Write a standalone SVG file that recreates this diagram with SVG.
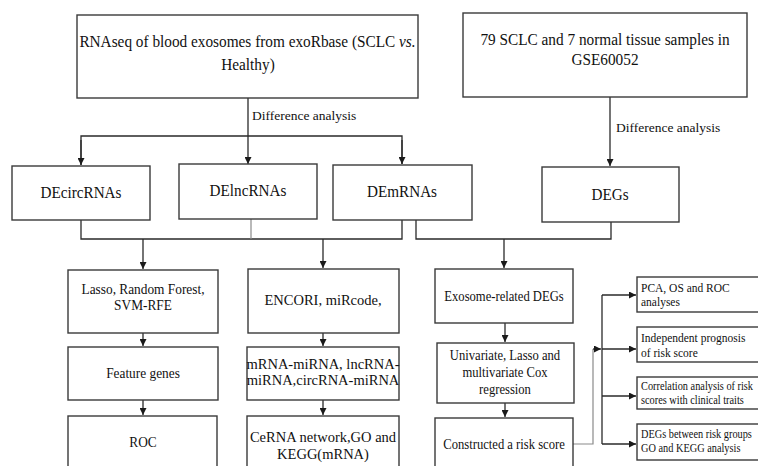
<svg xmlns="http://www.w3.org/2000/svg" width="758" height="466" viewBox="0 0 758 466" font-family="'Liberation Serif', 'DejaVu Serif', serif">
<defs>
<style>
.box{fill:#fff;stroke:#3a3a3a;stroke-width:1.4}
.ln{fill:none;stroke:#2a2a2a;stroke-width:1.3}
.lg{fill:none;stroke:#8a8a8a;stroke-width:1.2}
text{font-family:'Liberation Serif','DejaVu Serif',serif;fill:#111}
.c{text-anchor:middle}
.t1{font-size:17px}
.t2{font-size:16px}
.t3{font-size:14.5px}
.t4{font-size:12.5px}
.t5{font-size:12px}
.lab{font-size:13.5px}
</style>
<marker id="ah" viewBox="0 0 8 8" refX="8" refY="4" markerWidth="7" markerHeight="7" markerUnits="userSpaceOnUse" orient="auto">
<path d="M0,0 L8,4 L0,8 z" fill="#1a1a1a"/>
</marker>
</defs>
<rect width="758" height="466" fill="#fff"/>

<g id="connectors">
<path class="ln" d="M248,98 V164" marker-end="url(#ah)"/>
<path class="ln" d="M81,165 V136 H402 V164"/>
<path class="ln" d="M81,140 V165" marker-end="url(#ah)"/>
<path class="ln" d="M402,140 V164" marker-end="url(#ah)"/>
<text class="lab" x="252" y="120" font-family="Liberation Serif, serif">Difference analysis</text>
<path class="ln" d="M610,97 V166" marker-end="url(#ah)"/>
<text class="lab" x="616" y="132" font-family="Liberation Serif, serif">Difference analysis</text>
<path class="ln" d="M81,220 V239 H402 V220"/>
<path class="lg" d="M251,219 V239"/>
<path class="ln" d="M143,239 V269" marker-end="url(#ah)"/>
<path class="ln" d="M323,239 V268" marker-end="url(#ah)"/>
<path class="ln" d="M416,220 V239 H611 V222"/>
<path class="ln" d="M504,239 V268" marker-end="url(#ah)"/>
<path class="ln" d="M143,333 V346" marker-end="url(#ah)"/>
<path class="ln" d="M143,400 V415" marker-end="url(#ah)"/>
<path class="ln" d="M323,333 V346" marker-end="url(#ah)"/>
<path class="ln" d="M323,400 V415" marker-end="url(#ah)"/>
<path class="ln" d="M505,323 V342" marker-end="url(#ah)"/>
<path class="ln" d="M505,403 V417" marker-end="url(#ah)"/>
<path class="lg" d="M573,444 H593 V349"/>
<path class="ln" d="M593,349 H601" marker-end="url(#ah)"/>
<path class="ln" d="M602,295 V444"/>
<path class="ln" d="M602,295 H636" marker-end="url(#ah)"/>
<path class="ln" d="M602,349 H636" marker-end="url(#ah)"/>
<path class="ln" d="M602,396 H636" marker-end="url(#ah)"/>
<path class="ln" d="M602,444 H636" marker-end="url(#ah)"/>
</g>

<g id="n-rnaseq">
<rect class="box" x="77" y="15" width="341" height="83"/>
<text class="t1 c" transform="translate(247.5,47) scale(0.9,1)">RNAseq of blood exosomes from exoRbase (SCLC <tspan font-style="italic">vs.</tspan></text>
<text class="t1 c" transform="translate(248,70) scale(0.9,1)">Healthy)</text>
</g>
<g id="n-gse">
<rect class="box" x="463" y="13" width="284" height="84"/>
<text class="t1 c" transform="translate(605,45) scale(0.9,1)">79 SCLC and 7 normal tissue samples in</text>
<text class="t1 c" transform="translate(605,65) scale(0.9,1)">GSE60052</text>
</g>

<g id="n-decirc">
<rect class="box" x="12" y="166" width="138" height="54"/>
<text class="t2 c" transform="translate(81,198) scale(0.95,1)">DEcircRNAs</text>
</g>
<g id="n-delnc">
<rect class="box" x="179" y="164" width="138" height="55"/>
<text class="t2 c" transform="translate(248,196) scale(0.95,1)">DElncRNAs</text>
</g>
<g id="n-demrna">
<rect class="box" x="333" y="165" width="139" height="55"/>
<text class="t2 c" transform="translate(402,197) scale(0.95,1)">DEmRNAs</text>
</g>
<g id="n-degs">
<rect class="box" x="542" y="167" width="137" height="55"/>
<text class="t2 c" transform="translate(610,200) scale(0.95,1)">DEGs</text>
</g>

<g id="n-lasso">
<rect class="box" x="68" y="270" width="150" height="63"/>
<text class="t3 c" transform="translate(143,294) scale(0.92,1)">Lasso, Random Forest,</text>
<text class="t3 c" transform="translate(143,310) scale(0.92,1)">SVM-RFE</text>
</g>
<g id="n-feature">
<rect class="box" x="68" y="347" width="150" height="53"/>
<text class="t3 c" transform="translate(143,378) scale(0.92,1)">Feature genes</text>
</g>
<g id="n-roc">
<rect class="box" x="68" y="416" width="149" height="60"/>
<text class="t3 c" transform="translate(143,447) scale(0.92,1)">ROC</text>
</g>

<g id="n-encori">
<rect class="box" x="248" y="269" width="151" height="64"/>
<text class="t3 c" transform="translate(323,305)">ENCORI, miRcode,</text>
</g>
<g id="n-mirna">
<rect class="box" x="247" y="347" width="152" height="53"/>
<text class="t3 c" transform="translate(323,369)">mRNA-miRNA, lncRNA-</text>
<text class="t3 c" transform="translate(323,385)">miRNA,circRNA-miRNA</text>
</g>
<g id="n-cerna">
<rect class="box" x="247" y="416" width="152" height="60"/>
<text class="t3 c" transform="translate(323,442)">CeRNA network,GO and</text>
<text class="t3 c" transform="translate(323,459)">KEGG(mRNA)</text>
</g>

<g id="n-exo">
<rect class="box" x="435" y="269" width="138" height="54"/>
<text class="t3 c" transform="translate(504,301) scale(0.87,1)">Exosome-related DEGs</text>
</g>
<g id="n-cox">
<rect class="box" x="437" y="343" width="137" height="60"/>
<text class="t3 c" transform="translate(505,360) scale(0.87,1)">Univariate, Lasso and</text>
<text class="t3 c" transform="translate(505,377) scale(0.87,1)">multivariate Cox</text>
<text class="t3 c" transform="translate(505,394) scale(0.87,1)">regression</text>
</g>
<g id="n-risk">
<rect class="box" x="435" y="418" width="138" height="60"/>
<text class="t3 c" transform="translate(504,449) scale(0.87,1)">Constructed a risk score</text>
</g>

<g id="n-pca">
<rect class="box" x="637" y="277" width="130" height="35"/>
<text class="t4" transform="translate(641,292) scale(0.92,1)">PCA, OS and ROC</text>
<text class="t4" transform="translate(641,306) scale(0.92,1)">analyses</text>
</g>
<g id="n-indep">
<rect class="box" x="637" y="327" width="130" height="35"/>
<text class="t4" transform="translate(641,342) scale(0.92,1)">Independent prognosis</text>
<text class="t4" transform="translate(641,357) scale(0.92,1)">of risk score</text>
</g>
<g id="n-corr">
<rect class="box" x="637" y="377" width="130" height="32"/>
<text class="t5" transform="translate(641,390) scale(0.86,1)">Correlation analysis of risk</text>
<text class="t5" transform="translate(641,404) scale(0.86,1)">scores with clinical traits</text>
</g>
<g id="n-degrisk">
<rect class="box" x="637" y="424" width="130" height="36"/>
<text class="t5" transform="translate(641,438) scale(0.86,1)">DEGs between risk groups</text>
<text class="t5" transform="translate(641,452) scale(0.86,1)">GO and KEGG analysis</text>
</g>
</svg>
